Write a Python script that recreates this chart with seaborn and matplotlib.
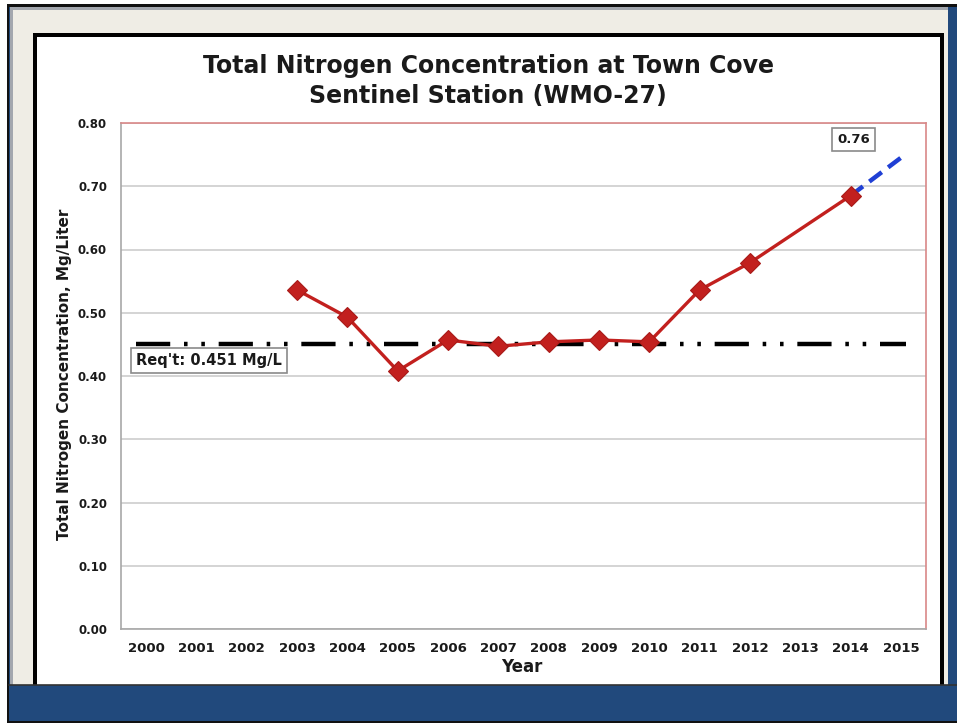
import numpy as np
import pandas as pd
import seaborn as sns
import matplotlib.pyplot as plt
from matplotlib.patches import Rectangle
from matplotlib.lines import Line2D

# Data (annual total nitrogen, mg/L)
years = [2003, 2004, 2005, 2006, 2007, 2008, 2009, 2010, 2011, 2012, 2014]
tn_values = [0.536, 0.493, 0.408, 0.457, 0.447, 0.454, 0.457, 0.454, 0.536, 0.579, 0.685]
proj_years = [2014, 2015]
proj_values = [0.685, 0.745]
req_value = 0.451
req_span = [1999.8, 2015.1]
axis_years = list(range(2000, 2016))
y_ticks = [0.0, 0.1, 0.2, 0.3, 0.4, 0.5, 0.6, 0.7, 0.8]

sns.set_style('white')
plt.rcParams['font.family'] = ['DejaVu Sans']

W, H = 957, 723
fig = plt.figure(figsize=(W / 100, H / 100), dpi=100)
fig.patch.set_facecolor('white')


def box(x0, y0, x1, y1, color, z=-10):
    r = Rectangle((x0 / W, 1 - y1 / H), (x1 - x0) / W, (y1 - y0) / H,
                  transform=fig.transFigure, facecolor=color,
                  edgecolor='none', zorder=z)
    fig.add_artist(r)


# slide frame
box(7, 4, 957, 723, '#111111', -20)
box(9, 7, 957, 721, '#21497c', -19)
box(10, 7, 948, 685, '#a3a7ae', -18)
box(13, 10, 948, 685, '#efede5', -17)
box(33, 33, 944, 685, '#000000', -16)
box(37, 37, 940, 685, '#ffffff', -15)
fig.add_artist(Line2D([9 / W, 957 / W], [1 - 685 / H, 1 - 685 / H],
                      transform=fig.transFigure, color='#333333', lw=1.2, zorder=-14))

ax = fig.add_axes([121 / W, 1 - 629 / H, (926 - 121) / W, (629 - 123) / H])
ax.set_facecolor('white')

df = pd.DataFrame({'Year': years, 'TN': tn_values})
sns.lineplot(data=df, x='Year', y='TN', ax=ax, color='#c2201e', lw=2.4,
             marker='D', markersize=10, markeredgecolor='#a81a18',
             markeredgewidth=0.8, zorder=5)

proj = pd.DataFrame({'Year': proj_years, 'TN': proj_values})
sns.lineplot(data=proj, x='Year', y='TN', ax=ax, color='#1f3fd4', lw=3.2,
             zorder=4)
ax.lines[-1].set_dashes([3.5, 1.8])

req = pd.DataFrame({'Year': req_span, 'TN': [req_value, req_value]})
sns.lineplot(data=req, x='Year', y='TN', ax=ax, color='black', lw=3.2, zorder=3)
ax.lines[-1].set_dashes([7.7, 3.1, 0.8, 3.1, 0.8, 3.1])

ax.set_xlim(1999.5, 2015.5)
ax.set_ylim(0, 0.8)
ax.set_yticks(y_ticks)
ax.set_yticklabels([f'{v:.2f}' for v in y_ticks])
ax.set_xticks(axis_years)
ax.set_xticklabels([str(y) for y in axis_years])
ax.set_xticks([y + 0.5 for y in range(1999, 2016)], minor=True)
ax.tick_params(axis='x', which='major', length=0, pad=9)
ax.tick_params(axis='x', which='minor', length=5, color='#a0a0a0', direction='out')
ax.tick_params(axis='y', length=6, color='#a0a0a0', direction='out', pad=4)
for lab in ax.get_xticklabels():
    lab.set_fontweight('bold')
    lab.set_fontsize(9.5)
    lab.set_color('#1a1a1a')
for lab in ax.get_yticklabels():
    lab.set_fontweight('bold')
    lab.set_fontsize(8.5)
    lab.set_color('#1a1a1a')

ax.grid(axis='y', color='#d4d4d4', lw=1.4)
ax.set_axisbelow(True)
ax.spines['left'].set_color('#a8a8a8')
ax.spines['bottom'].set_color('#a8a8a8')
ax.spines['top'].set_color('#d98888')
ax.spines['right'].set_color('#d98888')
for s in ax.spines.values():
    s.set_linewidth(1.2)
ax.set_xlabel('')
ax.set_ylabel('')

ax.text(2001.25, 0.424, "Req't: 0.451 Mg/L", ha='center', va='center',
        fontsize=10.5, fontweight='bold', color='#1a1a1a', zorder=6,
        bbox=dict(boxstyle='square,pad=0.35', facecolor='white',
                  edgecolor='#8a8a8a', lw=1.2))
ax.text(2014.06, 0.774, '0.76', ha='center', va='center',
        fontsize=9.5, fontweight='bold', color='#1a1a1a', zorder=6,
        bbox=dict(boxstyle='square,pad=0.4', facecolor='white',
                  edgecolor='#8a8a8a', lw=1.2))

fig.text(488 / W, 1 - 81 / H,
         'Total Nitrogen Concentration at Town Cove\nSentinel Station (WMO-27)',
         ha='center', va='center', fontsize=17, fontweight='bold',
         color='#1a1a1a', linespacing=1.3)
fig.text(65 / W, 1 - 374 / H, 'Total Nitrogen Concentration, Mg/Liter',
         rotation=90, ha='center', va='center', fontsize=11,
         fontweight='bold', color='#1a1a1a')
fig.text(522 / W, 1 - 667 / H, 'Year', ha='center', va='center',
         fontsize=12, fontweight='bold', color='#1a1a1a')

fig.savefig('out.png', dpi=100)
